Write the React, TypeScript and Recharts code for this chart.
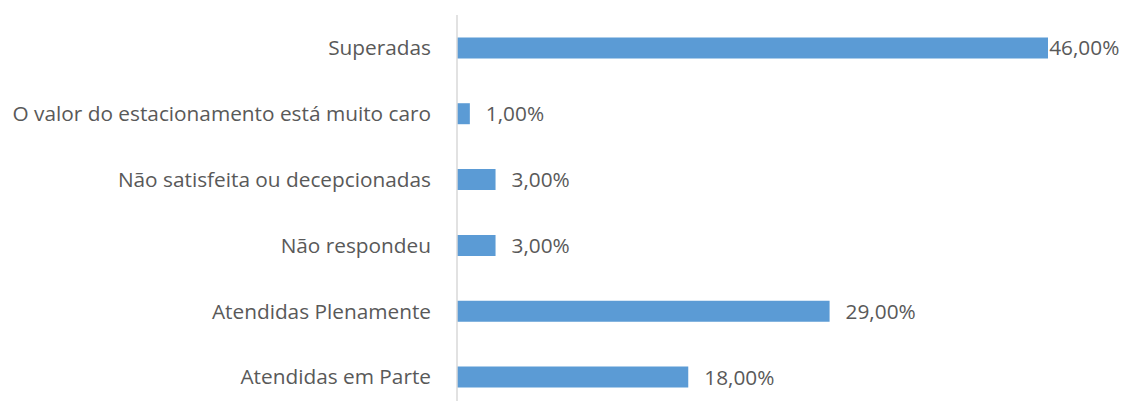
import { BarChart, Bar, XAxis, YAxis, LabelList } from "recharts";

const categories = [
  "Superadas",
  "O valor do estacionamento está muito caro",
  "Não satisfeita ou decepcionadas",
  "Não respondeu",
  "Atendidas Plenamente",
  "Atendidas em Parte",
];
const values = [46, 1, 3, 3, 29, 18];

const data = categories.map((name, i) => ({ name, value: values[i] }));

const FONT = "'Open Sans', sans-serif";
const TEXT = "#595959";
const SIZE = 20.8;
const W = 1123;

const fmt = (v: number) => `${v.toFixed(2).replace(".", ",")}%`;

function ValueLabel(props: any) {
  const { x, y, width, height, value } = props;
  const text = fmt(Number(value));
  const approx = text.length * 11.8;
  const left = Math.min(x + width + 16, W - 3 - approx);
  return (
    <text x={left} y={y + height / 2} dy="0.36em" fill={TEXT} fontSize={SIZE} fontFamily={FONT}>
      {text}
    </text>
  );
}

export default function App() {
  return (
    <div style={{ position: "absolute", left: 0, top: 0, background: "#fff" }}>
      <BarChart
        width={W}
        height={411}
        data={data}
        layout="vertical"
        margin={{ top: 15, right: 75, bottom: 1, left: 0 }}
        barCategoryGap="34%"
      >
        <XAxis type="number" domain={[0, 46]} hide />
        <YAxis
          type="category"
          dataKey="name"
          width={457}
          tickLine={false}
          axisLine={{ stroke: "#d9d9d9", strokeWidth: 1.5 }}
          tickMargin={20}
          tick={{ fill: TEXT, fontSize: SIZE, fontFamily: FONT }}
          interval={0}
        />
        <Bar dataKey="value" fill="#5b9bd5" isAnimationActive={false}>
          <LabelList dataKey="value" content={ValueLabel} />
        </Bar>
      </BarChart>
    </div>
  );
}
